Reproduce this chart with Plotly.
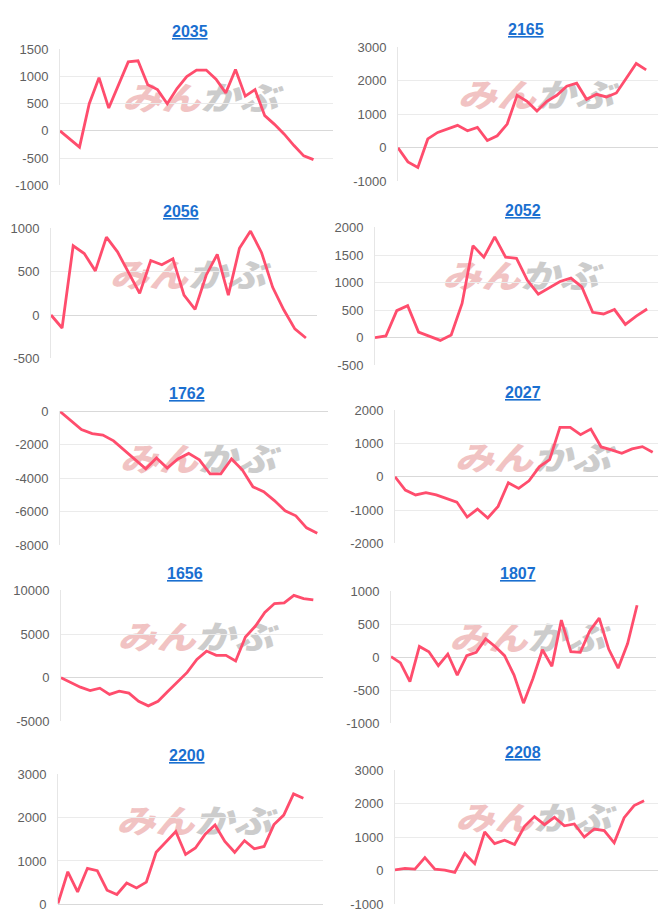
import base64
import plotly.graph_objects as go

# chart ids (titles)
titles = ["2035", "2165", "2056", "2052", "1762", "2027", "1656", "1807", "2200", "2208"]

# cumulative series
s_2035 = [0, -150, -300, 500, 980, 420, 850, 1270, 1290, 850, 760, 500, 780, 1000,
          1120, 1120, 950, 700, 1130, 640, 760, 280, 120, -60, -270, -460, -530]
s_2165 = [0, -420, -590, 265, 460, 560, 670, 510, 610, 215, 360, 710, 1570, 1390,
          1100, 1390, 1570, 1840, 1930, 1450, 1600, 1520, 1640, 2080, 2520, 2330]
s_2056 = [0, -150, 800, 710, 510, 900, 730, 490, 250, 630, 580, 650, 230, 65,
          460, 700, 230, 770, 970, 720, 320, 60, -160, -265]
s_2052 = [0, 30, 490, 580, 100, 20, -50, 50, 620, 1670, 1460, 1830, 1460, 1440,
          1040, 790, 900, 1020, 1080, 920, 460, 430, 510, 240, 390, 520]
s_1762 = [0, -530, -1080, -1330, -1410, -1760, -2310, -2850, -3430, -2780, -3390,
          -2840, -2510, -2900, -3730, -3730, -2840, -3490, -4510, -4800, -5330,
          -5940, -6240, -6960, -7290]
s_2027 = [0, -400, -545, -475, -545, -645, -760, -1210, -970, -1240, -890, -180,
          -350, -120, 300, 520, 1490, 1490, 1270, 1440, 900, 810, 710, 840, 910, 740]
s_1656 = [0, -530, -1090, -1470, -1200, -1920, -1540, -1770, -2700, -3230, -2700,
          -1580, -450, 600, 2100, 3050, 2560, 2560, 1920, 4660, 5860, 7480, 8500,
          8570, 9440, 9060, 8910]
s_1807 = [10, -85, -370, 165, 85, -125, 50, -270, 25, 75, 280, 165, 25, -270, -695,
          -320, 115, -135, 565, 85, 75, 400, 595, 125, -165, 210, 790]
s_2200 = [20, 750, 285, 830, 775, 325, 225, 490, 375, 510, 1200, 1430, 1680, 1150,
          1300, 1620, 1830, 1450, 1200, 1470, 1280, 1335, 1840, 2060, 2550, 2450]
s_2208 = [30, 70, 50, 395, 50, 20, -50, 520, 215, 1160, 815, 915, 785, 1330, 1620,
          1380, 1600, 1345, 1400, 1010, 1250, 1200, 835, 1590, 1950, 2095]

series = [s_2035, s_2165, s_2056, s_2052, s_1762, s_2027, s_1656, s_1807, s_2200, s_2208]

# y axis ranges and tick steps
y_ranges = [(-1000, 1500), (-1000, 3000), (-500, 1000), (-500, 2000), (-8000, 0),
            (-2000, 2000), (-5000, 10000), (-1000, 1000), (0, 3000), (-1000, 3000)]
y_steps = [500, 1000, 500, 500, 2000, 1000, 5000, 500, 1000, 1000]
x_slots = [28, 27, 24, 26, 25, 26, 27, 28, 27, 27]

W, H = 666, 919
# plot boxes in pixels: left, right, top, bottom
boxes = [(52, 325, 35, 173), (390, 658, 33, 169),
         (43, 309, 217, 349), (367, 650, 216, 356),
         (52, 320, 403, 539), (387, 655, 402, 537),
         (53, 315, 585, 718), (383, 648, 586, 720),
         (50, 315, 772, 904), (387, 656, 768, 904)]
title_pos = [(182, 17), (518, 15), (173, 200), (515, 199), (179, 385),
             (515, 384), (177, 568), (510, 568), (179, 753), (515, 750)]

LINE = "#ff4d6d"

# flat, slanted logo used as a watermark in every panel
logo_svg = (
    "<svg xmlns='http://www.w3.org/2000/svg' width='170' height='34' viewBox='0 0 170 34'>"
    "<text x='8' y='30' font-family='Noto Sans CJK JP' font-weight='900' "
    "font-style='italic' font-size='33' textLength='156' lengthAdjust='spacingAndGlyphs'>"
    "<tspan fill='#f1c3c3'>みん</tspan><tspan fill='#cccccc'>かぶ</tspan></text></svg>"
)
LOGO = "data:image/svg+xml;base64," + base64.b64encode(logo_svg.encode("utf-8")).decode()

fig = go.Figure()
layout = {}
annotations = []
images = []

for i, (name, ys) in enumerate(zip(titles, series)):
    n = i + 1
    xa = "x" if n == 1 else f"x{n}"
    ya = "y" if n == 1 else f"y{n}"
    l, r, t, b = boxes[i]
    y0, y1 = y_ranges[i]

    fig.add_trace(go.Scatter(
        x=list(range(len(ys))), y=ys, mode="lines",
        line=dict(color=LINE, width=2.8),
        showlegend=False, xaxis=xa, yaxis=ya,
        hovertemplate="%{y}<extra></extra>"
    ))

    tickvals = list(range(y0, y1 + 1, y_steps[i]))
    layout["xaxis" if n == 1 else f"xaxis{n}"] = dict(
        domain=[l / W, r / W], range=[0, x_slots[i]], anchor=ya,
        showticklabels=False, showgrid=False, zeroline=False, showline=False
    )
    layout["yaxis" if n == 1 else f"yaxis{n}"] = dict(
        domain=[1 - b / H, 1 - t / H], range=[y0, y1], anchor=xa,
        tickvals=tickvals, ticktext=[str(v) for v in tickvals],
        showgrid=True, gridcolor="#ebebeb", gridwidth=1,
        zeroline=True, zerolinecolor="#d9d9d9", zerolinewidth=1,
        showline=True, linecolor="#e6e6e6", linewidth=1,
        ticks="", ticklabelstandoff=8,
        tickfont=dict(family="Liberation Sans, Arial", size=13, color="#606060")
    )

    images.append(dict(
        source=LOGO, xref=f"{xa} domain", yref=f"{ya} domain",
        x=0.51, y=0.65, sizex=170 / (r - l), sizey=34 / (b - t),
        xanchor="center", yanchor="middle", sizing="stretch", layer="below"
    ))

    tx, ty = title_pos[i]
    annotations.append(dict(
        x=tx / W, y=1 - ty / H, xref="paper", yref="paper", showarrow=False,
        text=f"<b><u>{name}</u></b>", xanchor="center", yanchor="middle",
        font=dict(family="Liberation Sans, Arial", size=16, color="#1a6fd0")
    ))

fig.update_layout(
    **layout,
    annotations=annotations,
    images=images,
    width=W, height=H,
    margin=dict(l=0, r=0, t=0, b=0),
    paper_bgcolor="white", plot_bgcolor="rgba(0,0,0,0)",
    showlegend=False
)

fig.write_html("out.html")
